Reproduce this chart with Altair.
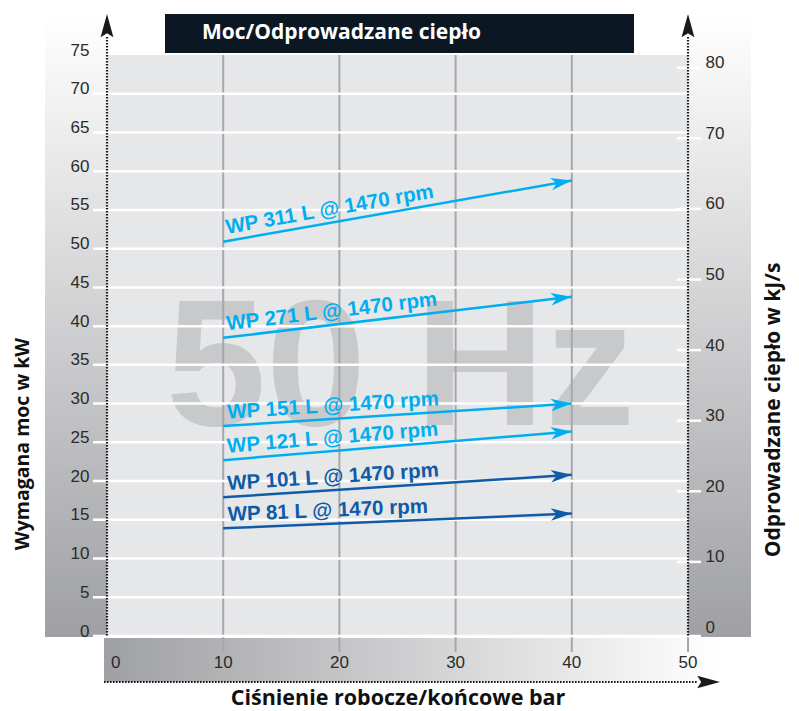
import math
import altair as alt
import pandas as pd

# ---------------- data ----------------
series = ["WP 311 L @ 1470 rpm", "WP 271 L @ 1470 rpm", "WP 151 L @ 1470 rpm",
          "WP 121 L @ 1470 rpm", "WP 101 L @ 1470 rpm", "WP 81 L @ 1470 rpm"]
pressure_points = [10, 40]
power_at_10 = [50.9, 38.5, 27.1, 22.7, 17.9, 13.9]
power_at_40 = [58.8, 43.8, 30.0, 26.4, 20.8, 15.8]
series_colors = ["#00aeef", "#00aeef", "#00aeef", "#00aeef", "#0f5ba6", "#0f5ba6"]

power_ticks = [0, 5, 10, 15, 20, 25, 30, 35, 40, 45, 50, 55, 60, 65, 70, 75]
heat_ticks = [0, 10, 20, 30, 40, 50, 60, 70, 80]
pressure_ticks = [0, 10, 20, 30, 40, 50]

chart_title = "Moc/Odprowadzane ciepło"
x_title = "Ciśnienie robocze/końcowe bar"
y_title = "Wymagana moc w kW"
y2_title = "Odprowadzane ciepło w kJ/s"
watermark = ["50", "Hz"]

# ---------------- layout / style ----------------
W, H = 581, 581
X_DOM, Y_DOM, Y2_DOM = [0, 50], [0, 75], [-0.5, 81.8]
sx, sy = W / (X_DOM[1] - X_DOM[0]), H / (Y_DOM[1] - Y_DOM[0])

NUM_FONT = "Liberation Sans"
LBL_FONT = "Liberation Sans"
TTL_FONT = "Open Sans"
WM_FONT = "Liberation Sans"
ARROW = "M0,0L-2,-0.6L-1.45,0L-2,0.6Z"
AXIS_ARROW = "M0,0L-2,-0.55L-1.65,0L-2,0.55Z"

xs = alt.Scale(domain=X_DOM, nice=False, zero=False)
ys = alt.Scale(domain=Y_DOM, nice=False, zero=False)
y2s = alt.Scale(domain=Y2_DOM, nice=False, zero=False)
cs = alt.Scale(domain=series, range=series_colors)

# ---------------- tables ----------------
rows = []
for s, a, b in zip(series, power_at_10, power_at_40):
    rows.append({"series": s, "pressure": pressure_points[0], "power": a})
    rows.append({"series": s, "pressure": pressure_points[1], "power": b})
lines_df = pd.DataFrame(rows)

seg = []
for s, a, b in zip(series, power_at_10, power_at_40):
    ang = math.degrees(math.atan2((b - a) * sy, (pressure_points[1] - pressure_points[0]) * sx))
    seg.append({"series": s, "p0": pressure_points[0], "v0": a,
                "p1": pressure_points[1], "v1": b, "angle": (360 - ang) % 360})
seg_df = pd.DataFrame(seg)

power_df = pd.DataFrame({"power": power_ticks})
heat_df = pd.DataFrame({"heat": heat_ticks})
press_df = pd.DataFrame({"pressure": pressure_ticks})
one = pd.DataFrame({"k": [1]})

vgrad = alt.LinearGradient(gradient="linear",
                           stops=[alt.GradientStop(color="#ffffff", offset=0),
                                  alt.GradientStop(color="#9fa0a3", offset=1)],
                           x1=0, x2=0, y1=0, y2=1)
hgrad = alt.LinearGradient(gradient="linear",
                           stops=[alt.GradientStop(color="#9fa0a3", offset=0),
                                  alt.GradientStop(color="#ffffff", offset=1)],
                           x1=0, x2=1, y1=0, y2=0)

base1 = alt.Chart(one)

left_panel = base1.mark_rect(fill=vgrad).encode(
    x=alt.value(-62), x2=alt.value(0), y=alt.value(-40), y2=alt.value(582))
right_panel = base1.mark_rect(fill=vgrad).encode(
    x=alt.value(W), x2=alt.value(W + 63), y=alt.value(-40), y2=alt.value(582))
bottom_band = base1.mark_rect(fill=hgrad).encode(
    x=alt.value(-3), x2=alt.value(W + 32), y=alt.value(H + 2), y2=alt.value(H + 46))

title_box = base1.mark_rect(fill="#0b1823").encode(
    x=alt.value(58), x2=alt.value(527), y=alt.value(-41), y2=alt.value(-2))
title_txt = base1.mark_text(align="left", baseline="alphabetic", font=TTL_FONT,
                            fontSize=21, fontWeight="bold", color="#ffffff").encode(
    x=alt.value(95), y=alt.value(-16), text=alt.value(chart_title))

wm_style = dict(align="center", baseline="alphabetic", font=WM_FONT,
                fontSize=180, fontWeight="bold", color="#c8c9cb")
wm1 = base1.mark_text(**wm_style).encode(
    x=alt.value(159), y=alt.value(370), text=alt.value(watermark[0]))
wm2 = base1.mark_text(**wm_style).encode(
    x=alt.value(418), y=alt.value(370), text=alt.value(watermark[1]))

vgrid = alt.Chart(press_df).transform_filter(
    "datum.pressure > 0 && datum.pressure < 50").mark_rule(
    color="#a6a7a9", strokeWidth=2).encode(
    x=alt.X("pressure:Q", scale=xs, axis=None), y=alt.value(0), y2=alt.value(H + 16))
vtick = alt.Chart(press_df).transform_filter("datum.pressure == 50").mark_rule(
    color="#a6a7a9", strokeWidth=2).encode(
    x=alt.X("pressure:Q", scale=xs, axis=None), y=alt.value(H), y2=alt.value(H + 16))

hgrid = alt.Chart(power_df).transform_filter("datum.power < 75").mark_rule(
    color="#ffffff", strokeWidth=2.5).encode(
    y=alt.Y("power:Q", scale=ys, axis=None), x=alt.value(-14), x2=alt.value(W))
hzero = alt.Chart(power_df).transform_filter("datum.power == 0").mark_rule(
    color="#ffffff", strokeWidth=2.5).encode(
    y=alt.Y("power:Q", scale=ys, axis=None), x=alt.value(W), x2=alt.value(W + 13))

num_axis = dict(ticks=False, tickSize=0, domain=False, grid=False, title=None,
                labelFont=NUM_FONT, labelFontSize=17, labelColor="#2b2b2b", zindex=1)

lines = alt.Chart(lines_df).mark_line(strokeWidth=2.5).encode(
    x=alt.X("pressure:Q", scale=xs, axis=None),
    y=alt.Y("power:Q", scale=ys,
            axis=alt.Axis(orient="left", values=power_ticks, labelPadding=18,
                          labelBaseline="alphabetic", labelAlign="right", **num_axis)),
    color=alt.Color("series:N", scale=cs, legend=None),
    detail="series:N")

# x tick labels, placed on the pressure scale inside the grey band
x_lbl_style = dict(baseline="top", font=NUM_FONT, fontSize=17, color="#2b2b2b")
x_zero = alt.Chart(press_df).transform_filter("datum.pressure == 0").mark_text(
    align="left", dx=4, **x_lbl_style).encode(
    x=alt.X("pressure:Q", scale=xs, axis=None), y=alt.value(H + 19),
    text=alt.Text("pressure:Q"))
x_rest = alt.Chart(press_df).transform_filter("datum.pressure > 0").mark_text(
    align="center", **x_lbl_style).encode(
    x=alt.X("pressure:Q", scale=xs, axis=None), y=alt.value(H + 19),
    text=alt.Text("pressure:Q"))

heads = alt.Chart(seg_df).mark_point(shape=ARROW, filled=True, size=441, opacity=1).encode(
    x=alt.X("p1:Q", scale=xs, axis=None),
    y=alt.Y("v1:Q", scale=ys, axis=None),
    angle=alt.Angle("angle:Q", scale=None),
    color=alt.Color("series:N", scale=cs, legend=None))

labels = alt.Chart(seg_df).mark_text(align="left", baseline="alphabetic", dx=5, dy=-7,
                                     font=LBL_FONT, fontSize=20.5, fontWeight="bold").encode(
    x=alt.X("p0:Q", scale=xs, axis=None),
    y=alt.Y("v0:Q", scale=ys, axis=None),
    angle=alt.Angle("angle:Q", scale=None),
    text="series:N",
    color=alt.Color("series:N", scale=cs, legend=None))

rticks = alt.Chart(heat_df).transform_filter("datum.heat > 0").mark_rule(
    color="#ffffff", strokeWidth=2.5).encode(
    y=alt.Y("heat:Q", scale=y2s,
            axis=alt.Axis(orient="right", values=heat_ticks, labelPadding=17,
                          labelBaseline="alphabetic", labelAlign="left", **num_axis)),
    x=alt.value(W - 11), x2=alt.value(W + 13))

dot = dict(color="#1a1a1a", strokeWidth=2.2, strokeDash=[1.6, 1.4])
dl = base1.mark_rule(**dot).encode(x=alt.value(0), y=alt.value(-18), y2=alt.value(H))
dr = base1.mark_rule(**dot).encode(x=alt.value(W), y=alt.value(-18), y2=alt.value(H))
db = base1.mark_rule(**dot).encode(y=alt.value(H + 46), x=alt.value(-3), x2=alt.value(W + 9))
al = base1.mark_point(shape=AXIS_ARROW, filled=True, size=543, opacity=1,
                      color="#1a1a1a", angle=270).encode(x=alt.value(0), y=alt.value(-41))
ar = base1.mark_point(shape=AXIS_ARROW, filled=True, size=543, opacity=1,
                      color="#1a1a1a", angle=270).encode(x=alt.value(W), y=alt.value(-41))
ab = base1.mark_point(shape=AXIS_ARROW, filled=True, size=520, opacity=1,
                      color="#1a1a1a", angle=0).encode(x=alt.value(W + 32), y=alt.value(H + 46))

ttl = dict(font=TTL_FONT, fontWeight="bold", color="#111111",
           align="center", baseline="alphabetic")
t_left = base1.mark_text(angle=270, fontSize=19.5, **ttl).encode(
    x=alt.value(-78), y=alt.value(389), text=alt.value(y_title))
t_right = base1.mark_text(angle=270, fontSize=21, **ttl).encode(
    x=alt.value(673), y=alt.value(355), text=alt.value(y2_title))
t_bottom = base1.mark_text(fontSize=21.5, **ttl).encode(
    x=alt.value(291), y=alt.value(649.5), text=alt.value(x_title))

chart = alt.layer(
    left_panel, right_panel, bottom_band, title_box, title_txt,
    wm1, wm2, vgrid, vtick, hgrid, hzero,
    lines, x_zero, x_rest, heads, labels, rticks,
    dl, dr, db, al, ar, ab, t_left, t_right, t_bottom
).resolve_scale(y="independent").properties(
    width=W, height=H,
    autosize=alt.AutoSizeParams(type="none"),
    padding={"left": 99, "top": 47, "right": 100, "bottom": 76},
).configure_view(fill="#e6e7e9", stroke=None)

chart.save("out.html", embed_options={"renderer": "svg", "actions": False})
